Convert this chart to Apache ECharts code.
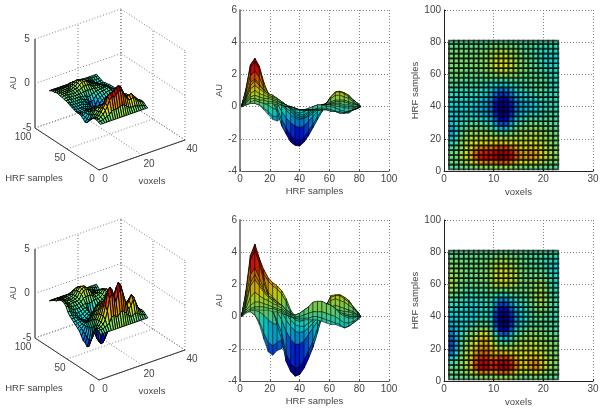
<!DOCTYPE html>
<html><head><meta charset="utf-8">
<style>html,body{margin:0;padding:0;background:#fff}#c{width:604px;height:414px}</style>
<script src="https://cdn.jsdelivr.net/npm/echarts@6/dist/echarts.min.js"></script>
</head><body><div id="c"></div>
<script>
const voxels=[1,2,3,4,5,6,7,8,9,10,11,12,13,14,15,16,17,18,19,20,21,22,23];
const hrfSamples=[1,4,7,10,13,16,19,22,25,28,31,34,37,40,43,46,49,52,55,58,61,64,67,70,73,76,79,81];
const auTop=[
[0,0,0,0,0,0,0,0,0,0,0,0,0,0,0,0,0,0,0,0,0,0,0],
[.1,.1,.2,.3,.4,.5,.8,.9,.9,.9,1,1.1,1,.8,.6,.5,.5,.5,.4,.3,.3,.2,.1],
[.2,.2,.4,.6,.9,1.3,1.9,2.2,2.1,2.2,2.5,2.6,2.4,1.9,1.5,1.2,1.2,1.3,1.1,.8,.6,.5,.3],
[.2,.2,.4,.7,1.1,1.5,2.2,2.5,2.4,2.6,2.9,3,2.8,2.2,1.7,1.4,1.5,1.6,1.3,1,.7,.5,.4],
[.1,.1,.3,.6,.9,1.3,1.8,2,1.9,2.1,2.4,2.5,2.3,1.8,1.4,1.2,1.3,1.3,1.1,.8,.6,.4,.3],
[-.2,-.1,.2,.5,.8,1,1.2,1.2,1.2,1.3,1.4,1.5,1.3,1.1,1,.9,1,1,.9,.7,.5,.4,.2],
[-.5,-.3,.1,.5,.7,.8,.8,.8,.8,.8,.8,.8,.8,.7,.7,.7,.8,.8,.7,.6,.5,.3,.2],
[-.8,-.6,-.1,.3,.5,.6,.6,.6,.6,.5,.4,.3,.4,.5,.6,.6,.7,.7,.6,.5,.4,.3,.2],
[-.9,-.6,-.2,.1,.3,.4,.4,.4,.3,.2,-.1,-.3,-.1,.2,.4,.4,.5,.5,.5,.4,.3,.2,.1],
[-.7,-.6,-.3,-.1,.1,.2,.1,.1,-.1,-.3,-.9,-1.2,-.8,-.3,.1,.2,.3,.3,.3,.2,.2,.1,.1],
[-.5,-.5,-.3,-.2,-.1,-.1,-.2,-.3,-.4,-.7,-1.4,-1.7,-1.3,-.7,-.2,-.1,.1,.1,.1,.1,.1,0,0],
[-.4,-.5,-.4,-.3,-.3,-.3,-.4,-.5,-.6,-1,-1.8,-2.2,-1.8,-1,-.5,-.3,-.2,-.1,-.1,-.1,0,0,0],
[-.4,-.5,-.5,-.4,-.4,-.5,-.6,-.7,-.8,-1.2,-2.1,-2.4,-2,-1.2,-.7,-.6,-.5,-.4,-.3,-.2,-.1,-.1,-.1],
[-.4,-.5,-.5,-.4,-.4,-.5,-.6,-.7,-.8,-1.3,-2.2,-2.45,-2.1,-1.3,-.8,-.7,-.6,-.5,-.4,-.2,-.2,-.2,-.2],
[-.3,-.4,-.4,-.4,-.4,-.4,-.5,-.6,-.7,-1.2,-2,-2.2,-1.9,-1.2,-.7,-.7,-.6,-.5,-.3,-.2,-.2,-.2,-.2],
[-.2,-.3,-.3,-.3,-.3,-.3,-.4,-.5,-.6,-1,-1.6,-1.8,-1.5,-.9,-.6,-.5,-.4,-.3,-.2,-.1,-.2,-.2,-.2],
[-.1,-.2,-.2,-.2,-.2,-.2,-.3,-.3,-.5,-.7,-1.2,-1.3,-1.1,-.6,-.4,-.3,-.2,-.1,0,0,-.2,-.2,-.2],
[0,-.1,-.1,-.1,-.1,-.1,-.1,-.2,-.3,-.4,-.7,-.8,-.6,-.3,-.2,-.1,0,0,.1,.1,-.1,-.2,-.2],
[.1,.1,.1,0,0,0,0,-.1,-.1,-.1,-.3,-.3,-.2,-.1,0,0,.1,.1,.1,.1,-.1,-.2,-.2],
[.1,.2,.2,.1,.1,.1,.1,.1,.1,.2,.2,.2,.2,.2,.2,.1,.1,.1,.1,0,-.1,-.2,-.2],
[.2,.3,.3,.2,.2,.2,.2,.3,.3,.5,.6,.6,.6,.5,.3,.2,.2,.1,.1,0,-.2,-.3,-.2],
[.2,.3,.3,.3,.3,.3,.3,.4,.4,.7,.9,.9,.9,.7,.4,.3,.2,.1,0,-.1,-.3,-.3,-.3],
[.3,.3,.3,.3,.3,.3,.3,.4,.5,.8,.95,.95,.9,.7,.4,.3,.2,.1,0,-.2,-.4,-.4,-.3],
[.3,.3,.3,.3,.3,.3,.3,.4,.5,.7,.85,.85,.8,.6,.4,.3,.1,0,-.1,-.3,-.4,-.4,-.4],
[.2,.3,.3,.3,.3,.3,.3,.3,.4,.6,.7,.7,.6,.5,.3,.2,.1,0,-.1,-.3,-.4,-.3,-.3],
[.2,.2,.2,.2,.2,.2,.2,.2,.3,.4,.4,.4,.4,.3,.2,.1,0,0,-.1,-.2,-.2,-.2,-.2],
[.1,.1,.1,.1,.1,.1,.1,.1,.1,.2,.2,.2,.2,.1,.1,.1,0,0,0,-.1,-.1,-.1,-.1],
[0,0,0,0,0,0,0,0,0,0,0,0,0,0,0,0,0,0,0,0,0,0,0]];
const auBottom=[
[0,0,0,0,0,0,0,0,0,0,0,0,0,0,0,0,0,0,0,0,0,0,0],
[.3,.3,.3,.4,.5,.7,1.2,1.4,1.2,1.1,1.4,1.6,1.4,1.1,.8,.6,.6,.8,.7,.5,.4,.3,.2],
[.3,.3,.4,.6,1,1.9,3.2,3.6,3.2,2.6,3.4,3.8,3.5,2.6,1.8,1.3,1.6,2.1,1.9,1.2,.7,.5,.4],
[.1,.1,.4,.7,1.3,2.3,3.8,4.3,3.9,3.1,4,4.5,4.1,3,2.1,1.6,2,2.6,2.3,1.5,.9,.6,.5],
[-.5,-.3,.3,.7,1.3,2.2,3.2,3.6,3.2,2.6,3.2,3.6,3.3,2.4,1.8,1.5,1.7,2.1,1.9,1.3,.9,.6,.4],
[-1.4,-1,.1,.7,1.2,1.9,2.6,2.9,2.6,2,2.2,2.4,2.1,1.7,1.5,1.3,1.4,1.6,1.5,1.1,.8,.6,.4],
[-2.2,-1.6,-.2,.6,1.1,1.6,2.2,2.4,2.2,1.5,1.3,1.3,1.2,1.1,1.2,1.2,1.3,1.3,1.2,1,.7,.5,.4],
[-2.4,-1.8,-.4,.4,.9,1.3,1.8,2.1,1.9,1.2,.6,.4,.4,.7,1,1,1.1,1.1,1,.8,.6,.5,.3],
[-2.1,-1.6,-.5,.2,.7,1.1,1.6,1.9,1.7,.9,-.1,-.5,-.3,.3,.7,.8,.9,.9,.8,.7,.5,.4,.3],
[-2,-1.4,-.6,0,.4,.8,1.3,1.6,1.4,.5,-.9,-1.4,-1,-.2,.3,.5,.7,.7,.7,.5,.4,.3,.2],
[-1.6,-1.2,-.7,-.3,.1,.4,.8,1.1,.9,-.1,-2,-2.8,-2.3,-.9,-.2,.2,.4,.4,.4,.3,.2,.1,.1],
[-1.2,-1,-.7,-.5,-.3,-.1,.2,.4,.2,-.7,-2.9,-3.4,-2.9,-1.4,-.6,-.2,.1,.2,.2,.1,.1,0,0],
[-1,-.9,-.7,-.6,-.6,-.5,-.3,0,-.1,-1.1,-3.3,-3.7,-3.2,-1.7,-.9,-.5,-.2,0,.1,.1,0,-.1,-.1],
[-.8,-.7,-.6,-.6,-.7,-.7,-.6,-.3,-.3,-1.2,-3.2,-3.6,-3.1,-1.7,-1,-.6,-.3,0,.2,.2,0,-.1,-.2],
[-.6,-.6,-.5,-.6,-.7,-.8,-.7,-.4,-.4,-1.1,-2.8,-3.2,-2.7,-1.5,-.9,-.6,-.2,.1,.4,.4,.1,-.1,-.2],
[-.4,-.4,-.4,-.5,-.7,-.8,-.6,-.4,-.3,-.9,-2.2,-2.6,-2.1,-1.1,-.7,-.4,-.1,.2,.6,.6,.2,-.1,-.2],
[-.2,-.2,-.3,-.4,-.6,-.6,-.5,-.3,-.2,-.6,-1.6,-1.9,-1.5,-.7,-.4,-.2,.1,.3,.8,.9,.3,0,-.2],
[.1,.1,-.1,-.2,-.4,-.4,-.3,-.2,-.1,-.2,-.8,-1,-.7,-.3,-.1,0,.2,.4,.9,.95,.3,0,-.2],
[.6,.5,.2,0,-.1,-.1,-.1,0,0,.2,0,0,.1,.2,.2,.2,.3,.5,.9,.95,.3,-.1,-.3],
[.8,.7,.4,.2,.1,.1,.1,.2,.3,.6,.7,.7,.7,.6,.4,.3,.4,.5,.8,.8,.2,-.2,-.4],
[.9,.8,.5,.3,.2,.3,.3,.3,.4,.9,1.2,1.3,1.2,1,.6,.4,.4,.4,.7,.7,.1,-.3,-.5],
[.9,.8,.5,.3,.2,.3,.3,.4,.5,1,1.3,1.35,1.3,1.1,.7,.4,.3,.3,.5,.5,0,-.4,-.5],
[.7,.7,.5,.4,.3,.3,.3,.4,.5,1,1.35,1.35,1.3,1,.6,.4,.2,.2,.3,.2,-.2,-.5,-.6],
[.5,.6,.5,.4,.3,.3,.3,.4,.5,.9,1.2,1.2,1.1,.9,.5,.3,.2,.1,.1,0,-.4,-.7,-.7],
[.4,.5,.4,.4,.3,.3,.3,.4,.4,.8,1,1,.9,.7,.4,.3,.1,0,0,-.1,-.4,-.6,-.6],
[.3,.3,.3,.3,.2,.2,.2,.3,.3,.5,.6,.6,.6,.5,.3,.2,.1,0,0,-.1,-.3,-.4,-.4],
[.1,.1,.1,.1,.1,.1,.1,.1,.1,.2,.3,.3,.2,.2,.1,.1,0,0,0,0,-.1,-.2,-.2],
[0,0,0,0,0,0,0,0,0,0,0,0,0,0,0,0,0,0,0,0,0,0,0]];
const voxelTicks3d=[0,20,40], hrfTicks3d=[0,50,100], auTicks3d=[-5,0,5];
const labelHRF='HRF samples', labelVox='voxels', labelAU='AU';

const FONT='Arial, "Liberation Sans", sans-serif', TXT='#444', GRID='#808080';
function jet(t,k){t=Math.max(0,Math.min(1,t));
  const f=c=>Math.round(k*255*Math.max(0,Math.min(1,1.5-Math.abs(4*t-c))));
  return 'rgb('+f(3)+','+f(2)+','+f(1)+')';}
// orthographic view of the left-hand boxes, in pixels of a hidden 1:1 grid
const proj=(v,s,z)=>[99+v*2.15-s*.64, 170-v*.75-s*.42-(z+5)*8.9];

function cellsOf(Z,k){const out=[],lo=Math.min(...Z.flat()),hi=Math.max(...Z.flat());
  for(let j=0;j<hrfSamples.length-1;j++)for(let i=0;i<voxels.length-1;i++){
    const m=(Z[j][i]+Z[j][i+1]+Z[j+1][i]+Z[j+1][i+1])/4;
    out.push({i,j,c:jet((m-lo)/(hi-lo),k)});}
  return out;}

function surface(Z,gi,mapper,order,stroke,lw,k){
  const cells=cellsOf(Z,k).sort(order);
  return {type:'custom',coordinateSystem:'cartesian2d',xAxisIndex:gi,yAxisIndex:gi,silent:true,clip:false,z:5,
    progressive:0,animation:false,
    data:cells.map((c,n)=>[voxels[c.i],hrfSamples[c.j],n]),
    encode:{x:0,y:1},
    renderItem:(p,api)=>{const c=cells[p.dataIndex],i=c.i,j=c.j;
      const pts=[[i,j],[i+1,j],[i+1,j+1],[i,j+1]].map(q=>api.coord(mapper(voxels[q[0]],hrfSamples[q[1]],Z[q[1]][q[0]])));
      return {type:'polygon',shape:{points:pts},style:{fill:c.c,stroke:stroke,lineWidth:lw}};}};
}
function axis2d(gi,min,max,interval,name,gap,lineColor,lw){return {gridIndex:gi,type:'value',min,max,interval,name,nameLocation:'middle',nameGap:gap,
  nameTextStyle:{fontFamily:FONT,fontSize:9.5,color:TXT},
  axisLine:{show:true,onZero:false,lineStyle:{color:lineColor,width:lw}},
  axisTick:{show:true,inside:true,length:2,lineStyle:{color:lineColor}},
  axisLabel:{show:true,fontFamily:FONT,fontSize:10,color:TXT,margin:3,hideOverlap:false,showMinLabel:true,showMaxLabel:true},
  splitLine:{show:true,lineStyle:{color:GRID,width:1,type:[1,2]}}};}
function hidden(gi,min,max,inv){return {gridIndex:gi,type:'value',min,max,inverse:!!inv,show:false,splitLine:{show:false}};}

// dotted frame + solid axes of a 3D box, projected from data coordinates
function frame3d(gi){
  const V=voxelTicks3d,S=hrfTicks3d,A=auTicks3d,vM=V[2],sM=S[2],zL=A[0],zH=A[2];
  const dotted=[],solid=[];
  A.forEach(z=>{dotted.push([[0,sM,z],[vM,sM,z]]);dotted.push([[vM,0,z],[vM,sM,z]]);});
  V.forEach(v=>{dotted.push([[v,sM,zL],[v,sM,zH]]);dotted.push([[v,0,zL],[v,sM,zL]]);});
  S.forEach(s=>{dotted.push([[vM,s,zL],[vM,s,zH]]);dotted.push([[0,s,zL],[vM,s,zL]]);});
  solid.push({a:[0,sM,zL],b:[0,sM,zH],col:'#888',w:2});
  solid.push({a:[0,sM,zL],b:[0,0,zL],col:'#333',w:1});
  solid.push({a:[0,0,zL],b:[vM,0,zL],col:'#333',w:1});
  const texts=[];
  const lab=(t,x,y,rot)=>texts.push({t,x,y,rot});
  A.forEach(z=>{const p=proj(0,sM,z);lab(String(z),p[0]-8,p[1],0);});
  S.forEach(s=>{const p=proj(0,s,zL);lab(String(s),p[0]-7-(s===100?5:0),p[1]+9,0);});
  V.forEach(v=>{const p=proj(v,0,zL);lab(String(v),p[0]+6+(v?1:0),p[1]+9,0);});
  lab(labelAU,13,83,1);lab(labelHRF,34,178,0);lab(labelVox,152,181,0);
  return [
   {type:'custom',coordinateSystem:'cartesian2d',xAxisIndex:gi,yAxisIndex:gi,silent:true,clip:false,z:2,animation:false,
    data:dotted.map((d,k)=>[0,0,k]),encode:{x:0,y:1},
    renderItem:(p,api)=>{const d=dotted[p.dataIndex],a=api.coord(proj(...d[0])),b=api.coord(proj(...d[1]));
      return {type:'line',shape:{x1:a[0],y1:a[1],x2:b[0],y2:b[1]},style:{stroke:GRID,lineWidth:1,lineDash:[1,2]}};}},
   {type:'custom',coordinateSystem:'cartesian2d',xAxisIndex:gi,yAxisIndex:gi,silent:true,clip:false,z:3,animation:false,
    data:solid.map((d,k)=>[0,0,k]),encode:{x:0,y:1},
    renderItem:(p,api)=>{const d=solid[p.dataIndex],a=api.coord(proj(...d.a)),b=api.coord(proj(...d.b));
      return {type:'line',shape:{x1:a[0],y1:a[1],x2:b[0],y2:b[1]},style:{stroke:d.col,lineWidth:d.w}};}},
   {type:'custom',coordinateSystem:'cartesian2d',xAxisIndex:gi,yAxisIndex:gi,silent:true,clip:false,z:9,animation:false,
    data:texts.map((d,k)=>[0,0,k]),encode:{x:0,y:1},
    renderItem:(p,api)=>{const d=texts[p.dataIndex],a=api.coord([d.x,d.y]);
      return {type:'text',x:a[0],y:a[1],rotation:d.rot?Math.PI/2:0,
        style:{text:d.t,align:'center',verticalAlign:'middle',fill:TXT,font:(/[a-zA-Z]/.test(d.t)?'9.5':'10')+'px '+FONT}};}}
  ];
}
const depth=(a,b)=>(voxels[b.i]*.75+hrfSamples[b.j]*.42)-(voxels[a.i]*.75+hrfSamples[a.j]*.42);
const byVoxel=(a,b)=>a.i-b.i||a.j-b.j;
const flat=(a,b)=>0;

const rows=[{Z:auTop,top:0},{Z:auBottom,top:210}];
const grid=[],xAxis=[],yAxis=[],series=[];
rows.forEach((r,k)=>{
  const g=k*3;
  grid.push({left:0,top:r.top,width:210,height:200,containLabel:false});
  xAxis.push(hidden(g,0,210));yAxis.push(hidden(g,0,200,true));
  series.push(...frame3d(g));
  series.push(surface(r.Z,g,proj,depth,'rgba(0,0,0,0.92)',1,.92));

  grid.push({left:240,top:r.top+10,width:149,height:161});
  xAxis.push(axis2d(g+1,0,100,20,labelHRF,15,'#555',1));
  yAxis.push(axis2d(g+1,-4,6,2,labelAU,14,'#888',2));
  series.push(surface(r.Z,g+1,(v,s,z)=>[s,z],byVoxel,'rgba(0,0,0,0.6)',.8,.78));

  grid.push({left:444,top:r.top+10,width:149,height:161});
  xAxis.push(axis2d(g+2,0,30,10,labelVox,16,'#222',1));
  yAxis.push(axis2d(g+2,0,100,20,labelHRF,22,'#222',1));
  series.push(surface(r.Z,g+2,(v,s,z)=>[v,s],flat,'rgba(0,0,0,0.68)',1.9,.88));
});
const chart=echarts.init(document.getElementById('c'),null,{renderer:'canvas'});
chart.setOption({animation:false,backgroundColor:'#fff',tooltip:{show:false},grid,xAxis,yAxis,series});
</script></body></html>
